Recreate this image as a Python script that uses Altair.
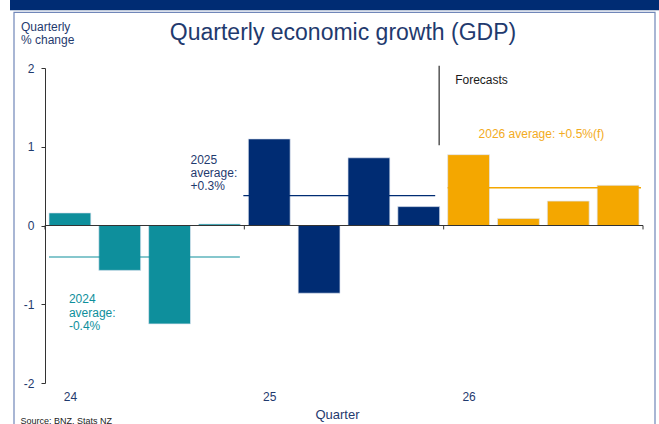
import altair as alt
import pandas as pd

# ---------------- data ----------------
quarters = ["Mar-24", "Jun-24", "Sep-24", "Dec-24",
            "Mar-25", "Jun-25", "Sep-25", "Dec-25",
            "Mar-26", "Jun-26", "Sep-26", "Dec-26"]
growth = [0.16, -0.57, -1.25, 0.02,
          1.10, -0.86, 0.86, 0.24,
          0.90, 0.09, 0.31, 0.51]
year_of = ["2024"] * 4 + ["2025"] * 4 + ["2026"] * 4

avg_years = ["2024", "2025", "2026"]
avg_values = [-0.40, 0.38, 0.48]
avg_start = [0.08, 3.98, 8.08]
avg_end = [3.91, 7.83, 11.96]

year_ticks = [0, 4, 8, 12]
year_label_pos = [0.5, 4.5, 8.5]
year_labels = ["24", "25", "26"]
y_ticks = [-2, -1, 0, 1, 2]

TEAL = "#0E8F9C"
NAVY = "#002C73"
ORANGE = "#F4A700"
ORANGE_LINE = "#FFC20E"
TXT = "#1F3A6E"
FONT = "Liberation Sans"

idx = list(range(len(quarters)))
df = pd.DataFrame({
    "quarter": quarters,
    "growth": growth,
    "year": year_of,
    "x0": [i + 0.08 for i in idx],
    "x1": [i + 0.92 for i in idx],
})
avg_df = pd.DataFrame({"year": avg_years, "avg": avg_values,
                       "xs": avg_start, "xe": avg_end})
tick_df = pd.DataFrame({"t": year_ticks})
one = pd.DataFrame({"k": [0]})

xscale = alt.Scale(domain=[0, 12], nice=False, zero=False)
yscale = alt.Scale(domain=[-2, 2], nice=False)
color_scale = alt.Scale(domain=avg_years, range=[TEAL, NAVY, ORANGE])

label_expr = " : ".join(
    f"datum.value == {p} ? '{l}'" for p, l in zip(year_label_pos, year_labels)
) + " : ''"

x_axis = alt.Axis(values=year_label_pos, labelExpr=label_expr,
                  domain=False, ticks=False, grid=False,
                  labelPadding=8, labelFontSize=12, labelColor=TXT,
                  labelFont=FONT, title="Quarter", titleFont=FONT,
                  titleFontSize=13, titleFontWeight="normal",
                  titleColor=TXT, titlePadding=6, titleX=292)
y_axis = alt.Axis(values=y_ticks, labelExpr="toString(datum.value)", grid=False,
                  domainColor="#333333", tickColor="#333333",
                  tickSize=4, labelPadding=7, labelFontSize=12,
                  labelColor=TXT, labelFont=FONT, title="")


def X(v):
    return alt.XDatum(v, scale=xscale, type="quantitative", axis=x_axis)


def Y(v):
    return alt.YDatum(v, scale=yscale, type="quantitative", axis=y_axis)


bars = alt.Chart(df).mark_bar(stroke="#dfe5f0", strokeWidth=0.7).encode(
    x=alt.X("x0:Q", scale=xscale, axis=x_axis),
    x2="x1:Q",
    y=alt.Y("growth:Q", scale=yscale, axis=y_axis),
    y2=alt.datum(0),
    color=alt.Color("year:N", scale=color_scale, legend=None),
)

zero_line = alt.Chart(one).mark_rule(color="#333333", strokeWidth=1.2).encode(
    x=X(0), x2=alt.datum(12), y=Y(0))

ticks = alt.Chart(tick_df).mark_rule(color="#333333", strokeWidth=1).encode(
    x=alt.X("t:Q", scale=xscale, axis=x_axis),
    y=Y(0), y2=alt.datum(-0.05))

avg_lines = alt.Chart(avg_df).mark_rule().encode(
    x=alt.X("xs:Q", scale=xscale, axis=x_axis), x2="xe:Q",
    y=alt.Y("avg:Q", scale=yscale, axis=y_axis),
    color=alt.Color("year:N", scale=alt.Scale(domain=avg_years,
                                              range=[TEAL, NAVY, ORANGE_LINE]),
                    legend=None),
    strokeWidth=alt.StrokeWidth("year:N", scale=alt.Scale(domain=avg_years,
                                                          range=[1.2, 1.4, 2]),
                                legend=None),
)

forecast_line = alt.Chart(one).mark_rule(color="#555555", strokeWidth=1.5).encode(
    x=X(7.91), y=Y(2.03), y2=alt.datum(1.02))


def ann(text, x, y, color, size=12, line_height=13.3):
    return alt.Chart(one).mark_text(
        text=text, align="left", baseline="alphabetic", color=color,
        fontSize=size, font=FONT, lineHeight=line_height
    ).encode(x=X(x), y=Y(y))


ann24 = ann(["2024", "average:", "-0.4%"], 0.48, -0.99, TEAL)
ann25 = ann(["2025", "average:", " +0.3%"], 2.92, 0.787, TXT)
ann_fc = ann("Forecasts", 8.23, 1.80, "#1a1a1a")
ann26 = ann("2026 average: +0.5%(f)", 8.70, 1.105, "#F3AB22")


def ptext(text, x, y, size, color, align="left"):
    return alt.Chart(one).mark_text(
        text=text, align=align, baseline="alphabetic", fontSize=size,
        font=FONT, color=color
    ).encode(x=alt.value(x), y=alt.value(y))


title = ptext("Quarterly economic growth (GDP)", 298, -28, 23, TXT, align="center")
ylab1 = ptext("Quarterly", -24, -37, 12, TXT)
ylab2 = ptext("% change", -24, -24, 12, TXT)
source = ptext("Source: BNZ, Stats NZ", -24.5, 355.5, 9, "#222222")

band = alt.Chart(one).mark_rect(color=NAVY).encode(
    x=alt.value(-35), x2=alt.value(614), y=alt.value(-70), y2=alt.value(-57.7))
border = alt.Chart(one).mark_rect(fill="transparent", stroke="#7086B8",
                                  strokeWidth=1.2).encode(
    x=alt.value(-31), x2=alt.value(610), y=alt.value(-55.7), y2=alt.value(380))

chart = alt.layer(
    band, border, bars, avg_lines, zero_line, ticks, forecast_line,
    ann24, ann25, ann_fc, ann26, title, ylab1, ylab2, source
).properties(
    width=598, height=315,
    padding={"left": 45, "top": 68, "right": 16, "bottom": 41},
    autosize=alt.AutoSizeParams(type="none"),
).configure(
    background="white"
).configure_view(strokeWidth=0, stroke="transparent")

chart.save("out.html", embed_options={"renderer": "svg", "actions": False})
